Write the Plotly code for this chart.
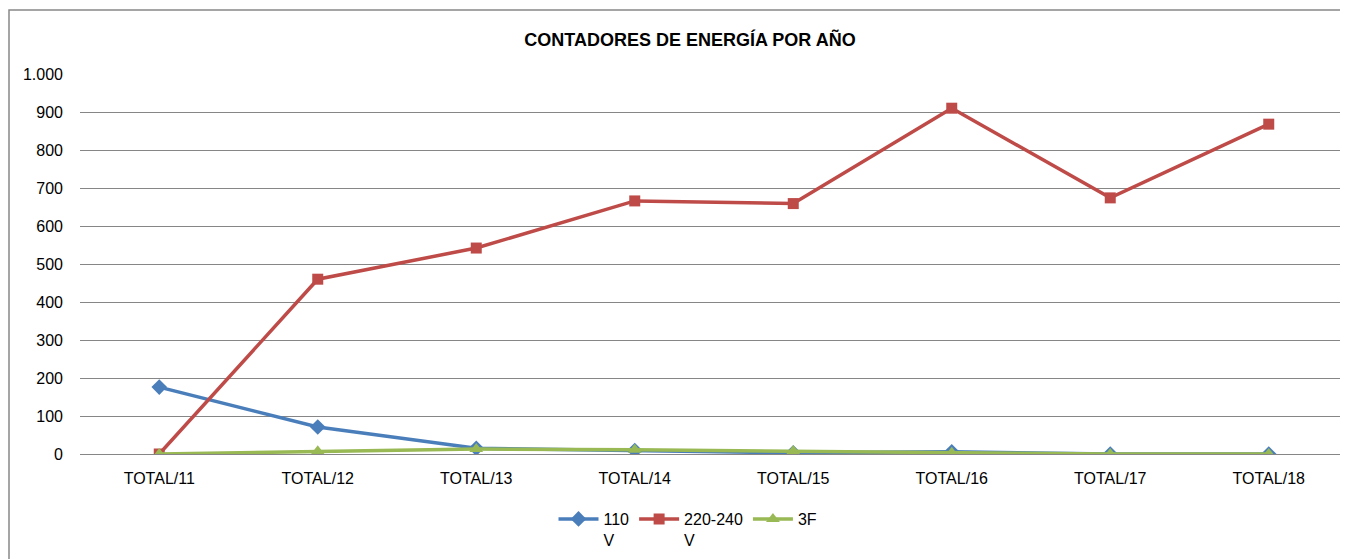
import plotly.graph_objects as go

categories = ["TOTAL/11", "TOTAL/12", "TOTAL/13", "TOTAL/14", "TOTAL/15", "TOTAL/16", "TOTAL/17", "TOTAL/18"]
v110 = [176, 71, 15, 9, 3, 6, 0, 0]
v220 = [0, 460, 542, 666, 659, 910, 674, 868]
v3f = [0, 7, 13, 11, 8, 3, 0, 0]

FONT = "Liberation Sans, Arial, sans-serif"

# figure is offset by the page's 8px body margin
W, H = 1340, 551
L, T, PW, PH = 72, 66, 1268, 380

fig = go.Figure()
fig.add_trace(go.Scatter(x=categories, y=v110, name="110<br>V", mode="lines+markers",
                         line=dict(color="#4A7EBB", width=3.5),
                         marker=dict(symbol="diamond", size=12, color="#4A7EBB")))
fig.add_trace(go.Scatter(x=categories, y=v220, name="220-240<br>V", mode="lines+markers",
                         line=dict(color="#BE4B48", width=3.5),
                         marker=dict(symbol="square", size=11, color="#BE4B48")))
fig.add_trace(go.Scatter(x=categories, y=v3f, name="3F", mode="lines+markers",
                         line=dict(color="#98B954", width=3.5),
                         marker=dict(symbol="triangle-up", size=12, color="#98B954")))

fig.update_layout(
    width=W, height=H,
    margin=dict(l=L, r=W - L - PW, t=T, b=H - T - PH, autoexpand=False),
    paper_bgcolor="white", plot_bgcolor="white",
    separators=",.",
    font=dict(family=FONT, size=16, color="#000000"),
    title=dict(text="<b>CONTADORES DE ENERGÍA POR AÑO</b>", x=682 / W, xanchor="center",
               y=1 - 32 / H, yanchor="middle", font=dict(size=18, family=FONT)),
    xaxis=dict(type="category", range=[-0.5, 7.5], showgrid=False, showline=False,
               ticks="", tickfont=dict(size=16), ticklabelstandoff=13),
    yaxis=dict(range=[0, 1000], dtick=100, tickformat=",d", showgrid=True,
               gridcolor="#868686", gridwidth=1, zeroline=True, zerolinecolor="#868686",
               zerolinewidth=1, showline=False, ticks="", ticklabelstandoff=16,
               tickfont=dict(size=16)),
    legend=dict(orientation="h", x=(680 - 72) / PW, xanchor="center",
                yref="container", y=1 - 494 / H, yanchor="top",
                font=dict(size=16), itemwidth=40, tracegroupgap=0, valign="top"),
    showlegend=True,
    shapes=[dict(type="rect", xref="paper", yref="paper",
                 x0=(1 - L) / PW, x1=(1360 - L) / PW,
                 y0=(446 - 570) / PH, y1=(446 - 2) / PH,
                 line=dict(color="#888888", width=1.5), fillcolor="rgba(0,0,0,0)", layer="below")],
)

fig.write_html("out.html")
